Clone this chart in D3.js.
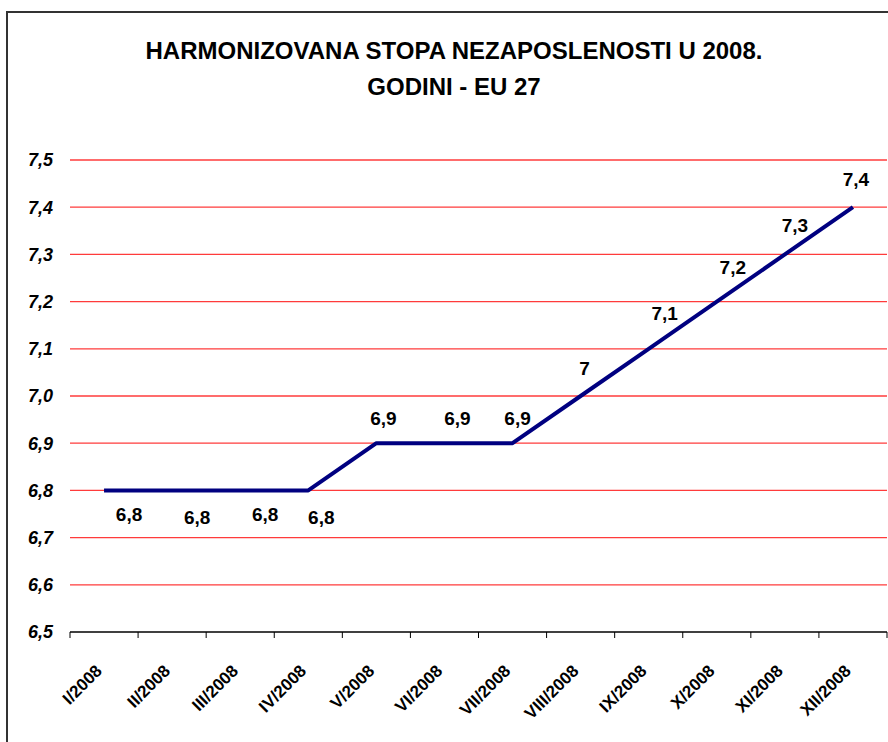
<!DOCTYPE html>
<html>
<head>
<meta charset="utf-8">
<style>
  body { margin: 0; background: #fff; }
  svg { display: block; font-family: Arial, "Liberation Sans", sans-serif; }
</style>
</head>
<body>
<script src="https://cdn.jsdelivr.net/npm/d3@7"></script>
<script>
  // data
  const months = ['I/2008', 'II/2008', 'III/2008', 'IV/2008', 'V/2008', 'VI/2008',
    'VII/2008', 'VIII/2008', 'IX/2008', 'X/2008', 'XI/2008', 'XII/2008']
  const rate = [6.8, 6.8, 6.8, 6.8, 6.9, 6.9, 6.9, 7.0, 7.1, 7.2, 7.3, 7.4]
  const rateLabels = ['6,8', '6,8', '6,8', '6,8', '6,9', '6,9', '6,9', '7', '7,1', '7,2', '7,3', '7,4']
  const yTicks = [6.5, 6.6, 6.7, 6.8, 6.9, 7.0, 7.1, 7.2, 7.3, 7.4, 7.5]

  // label nudges (pixels), as placed by hand in the original
  const labelDx = [25, 25, 25, 13, 7, 13, 5, 4, 16, 16, 10, 3]
  const labelDy = [24, 27, 24, 27, -25, -25, -25, -28, -35, -34, -29, -28]

  const width = 888
  const height = 742
  const margins = { top: 160, right: 1, bottom: 110, left: 70 }

  const svg = d3.select('body')
    .append('svg')
    .attr('width', width)
    .attr('height', height)

  // outer frame
  svg.append('rect')
    .attr('x', 7).attr('y', 12)
    .attr('width', 900).attr('height', 800)
    .attr('fill', 'none')
    .attr('stroke', '#333')
    .attr('stroke-width', 2)

  // title
  const title = svg.append('text')
    .attr('text-anchor', 'middle')
    .attr('font-weight', 'bold')
    .attr('font-size', '24px')
  title.append('tspan').attr('x', 454).attr('y', 59).text('HARMONIZOVANA STOPA NEZAPOSLENOSTI U 2008.')
  title.append('tspan').attr('x', 454).attr('y', 95).text('GODINI - EU 27')

  const g = svg.append('g')
    .attr('transform', `translate(${margins.left}, ${margins.top})`)

  const w = width - margins.left - margins.right
  const h = height - margins.top - margins.bottom

  const x = d3.scaleBand()
    .domain(months)
    .range([0, w])

  const y = d3.scaleLinear()
    .domain([6.5, 7.5])
    .range([h, 0])

  // grid
  g.append('g')
    .selectAll('line')
    .data(yTicks.slice(1))
    .enter().append('line')
    .attr('x1', 0).attr('x2', w)
    .attr('y1', d => y(d)).attr('y2', d => y(d))
    .attr('stroke', '#ff3b3b')
    .attr('stroke-width', 1.3)

  // y axis labels
  const fmt = d => d3.format('.1f')(d).replace('.', ',')
  g.append('g')
    .selectAll('text')
    .data(yTicks)
    .enter().append('text')
    .attr('x', -17)
    .attr('y', d => y(d))
    .attr('dy', '0.35em')
    .attr('text-anchor', 'end')
    .attr('font-weight', 'bold')
    .attr('font-style', 'italic')
    .attr('font-size', '18px')
    .text(fmt)

  // x axis
  const xAxis = g.append('g')
    .attr('transform', `translate(0, ${h})`)
  xAxis.append('line')
    .attr('x1', 0).attr('x2', w)
    .attr('stroke', '#000').attr('stroke-width', 1.3)
  xAxis.selectAll('.tick')
    .data(months.concat(['end']))
    .enter().append('line')
    .attr('x1', (d, i) => i * x.step()).attr('x2', (d, i) => i * x.step())
    .attr('y1', 0).attr('y2', 6)
    .attr('stroke', '#000')
  xAxis.selectAll('text')
    .data(months)
    .enter().append('text')
    .attr('transform', d => `translate(${x(d) + x.bandwidth() / 2 - 1}, 40) rotate(-45)`)
    .attr('text-anchor', 'end')
    .attr('font-weight', 'bold')
    .attr('font-size', '17px')
    .text(d => d)

  // line
  const cx = i => x(months[i]) + x.bandwidth() / 2
  const line = d3.line()
    .x((d, i) => cx(i))
    .y(d => y(d))
  g.append('path')
    .datum(rate)
    .attr('d', line)
    .attr('fill', 'none')
    .attr('stroke', '#000080')
    .attr('stroke-width', 4)
    .attr('stroke-linejoin', 'round')

  // value labels
  g.append('g')
    .selectAll('text')
    .data(rate)
    .enter().append('text')
    .attr('x', (d, i) => cx(i) + labelDx[i])
    .attr('y', (d, i) => y(d) + labelDy[i])
    .attr('dy', '0.35em')
    .attr('text-anchor', 'middle')
    .attr('font-weight', 'bold')
    .attr('font-size', '19px')
    .text((d, i) => rateLabels[i])
</script>
</body>
</html>
